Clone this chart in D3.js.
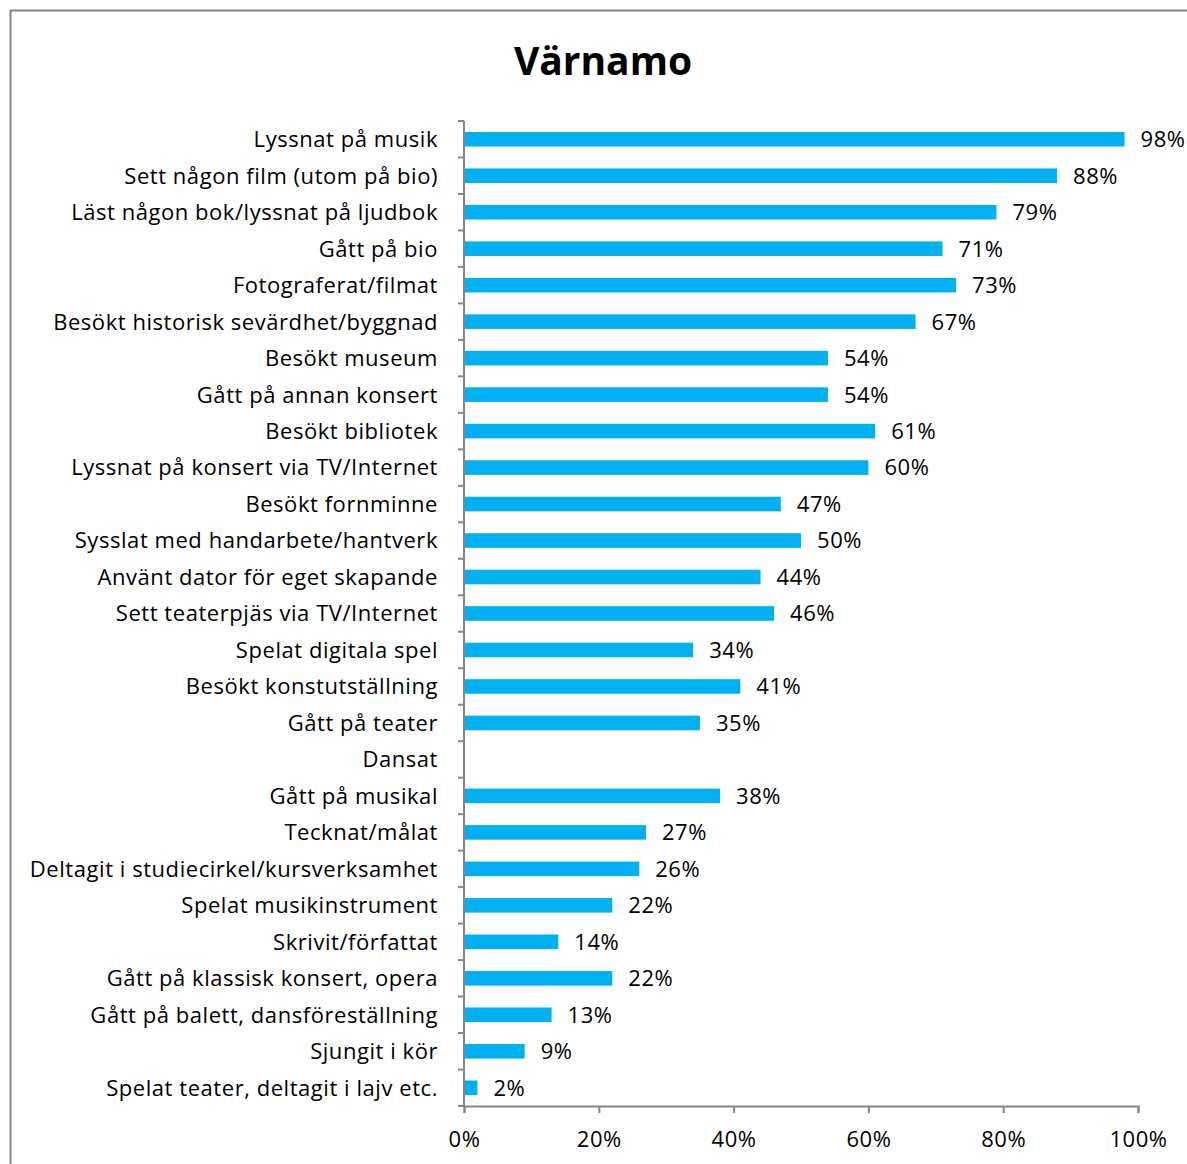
<!DOCTYPE html>
<html>
<head>
<meta charset="utf-8">
<script src="https://cdn.jsdelivr.net/npm/d3@7"></script>
<style>
  body { margin: 0; background: #fff; }
  svg text { font-family: "Open Sans", "Noto Sans", sans-serif; fill: #000; }
</style>
</head>
<body>
<div id="chart"></div>
<script>
// categories top to bottom
const categories = [
  "Lyssnat på musik",
  "Sett någon film (utom på bio)",
  "Läst någon bok/lyssnat på ljudbok",
  "Gått på bio",
  "Fotograferat/filmat",
  "Besökt historisk sevärdhet/byggnad",
  "Besökt museum",
  "Gått på annan konsert",
  "Besökt bibliotek",
  "Lyssnat på konsert via TV/Internet",
  "Besökt fornminne",
  "Sysslat med handarbete/hantverk",
  "Använt dator för eget skapande",
  "Sett teaterpjäs via TV/Internet",
  "Spelat digitala spel",
  "Besökt konstutställning",
  "Gått på teater",
  "Dansat",
  "Gått på musikal",
  "Tecknat/målat",
  "Deltagit i studiecirkel/kursverksamhet",
  "Spelat musikinstrument",
  "Skrivit/författat",
  "Gått på klassisk konsert, opera",
  "Gått på balett, dansföreställning",
  "Sjungit i kör",
  "Spelat teater, deltagit i lajv etc."
];
// share in percent (null = no value shown)
const values = [98, 88, 79, 71, 73, 67, 54, 54, 61, 60, 47, 50, 44, 46, 34, 41, 35, null, 38, 27, 26, 22, 14, 22, 13, 9, 2];
const xTicks = [0, 20, 40, 60, 80, 100];

const W = 1187, H = 1164;
const margin = { top: 121, left: 464, right: 49, bottom: 58 };
const width = W - margin.left - margin.right;
const height = H - margin.top - margin.bottom;
const axisColor = "#868686";
const barColor = "#00B0F0";
const labelFont = "22px";
const labelSpacing = "0.55px";

const svg = d3.select("#chart").append("svg")
  .attr("width", W).attr("height", H);

// outer frame
svg.append("path")
  .attr("d", `M10.5,${H} V10.5 H${W}`)
  .attr("fill", "none")
  .attr("stroke", axisColor)
  .attr("stroke-width", 2);

svg.append("text")
  .attr("x", 603).attr("y", 75)
  .attr("text-anchor", "middle")
  .style("font-size", "39px")
  .style("font-weight", "700")
  .text("Värnamo");

const g = svg.append("g").attr("transform", `translate(${margin.left},${margin.top})`);

const x = d3.scaleLinear().domain([0, 100]).range([0, width]);
const y = d3.scaleBand().domain(categories).range([0, height]).paddingInner(0.6).paddingOuter(0.3);

// bars
const rows = categories.map((c, i) => ({ cat: c, value: values[i] })).filter(d => d.value != null);

g.selectAll("rect.bar")
  .data(rows)
  .enter().append("rect")
  .attr("class", "bar")
  .attr("x", 0)
  .attr("y", d => y(d.cat))
  .attr("width", d => x(d.value))
  .attr("height", y.bandwidth())
  .attr("fill", barColor);

g.selectAll("text.val")
  .data(rows)
  .enter().append("text")
  .attr("class", "val")
  .attr("x", d => x(d.value) + 16)
  .attr("y", d => y(d.cat) + y.bandwidth() / 2)
  .attr("dy", "0.36em")
  .style("font-size", labelFont)
  .style("letter-spacing", labelSpacing)
  .text(d => d.value + "%");

// y axis with ticks on band boundaries
const yAxis = g.append("g");
yAxis.append("line")
  .attr("x1", 0).attr("x2", 0).attr("y1", 0).attr("y2", height)
  .attr("stroke", axisColor).attr("stroke-width", 2);
yAxis.selectAll("line.tk")
  .data(d3.range(categories.length + 1))
  .enter().append("line")
  .attr("class", "tk")
  .attr("x1", -6).attr("x2", 0)
  .attr("y1", i => i * height / categories.length)
  .attr("y2", i => i * height / categories.length)
  .attr("stroke", axisColor).attr("stroke-width", 2);
yAxis.selectAll("text.cat")
  .data(categories)
  .enter().append("text")
  .attr("class", "cat")
  .attr("x", -26)
  .attr("y", d => y(d) + y.bandwidth() / 2)
  .attr("dy", "0.36em")
  .attr("text-anchor", "end")
  .style("font-size", labelFont)
  .style("letter-spacing", labelSpacing)
  .text(d => d);

// x axis
const xAxis = g.append("g").attr("transform", `translate(0,${height})`)
  .call(d3.axisBottom(x).tickValues(xTicks).tickSize(7).tickPadding(18).tickFormat(d => d + "%"));
xAxis.select(".domain").attr("stroke", axisColor).attr("stroke-width", 2);
xAxis.selectAll(".tick line").attr("stroke", axisColor).attr("stroke-width", 2);
xAxis.selectAll(".tick text")
  .attr("fill", "#000")
  .style("font-size", labelFont)
  .style("letter-spacing", labelSpacing)
  .style("font-family", "'Open Sans', 'Noto Sans', sans-serif");
</script>
</body>
</html>
